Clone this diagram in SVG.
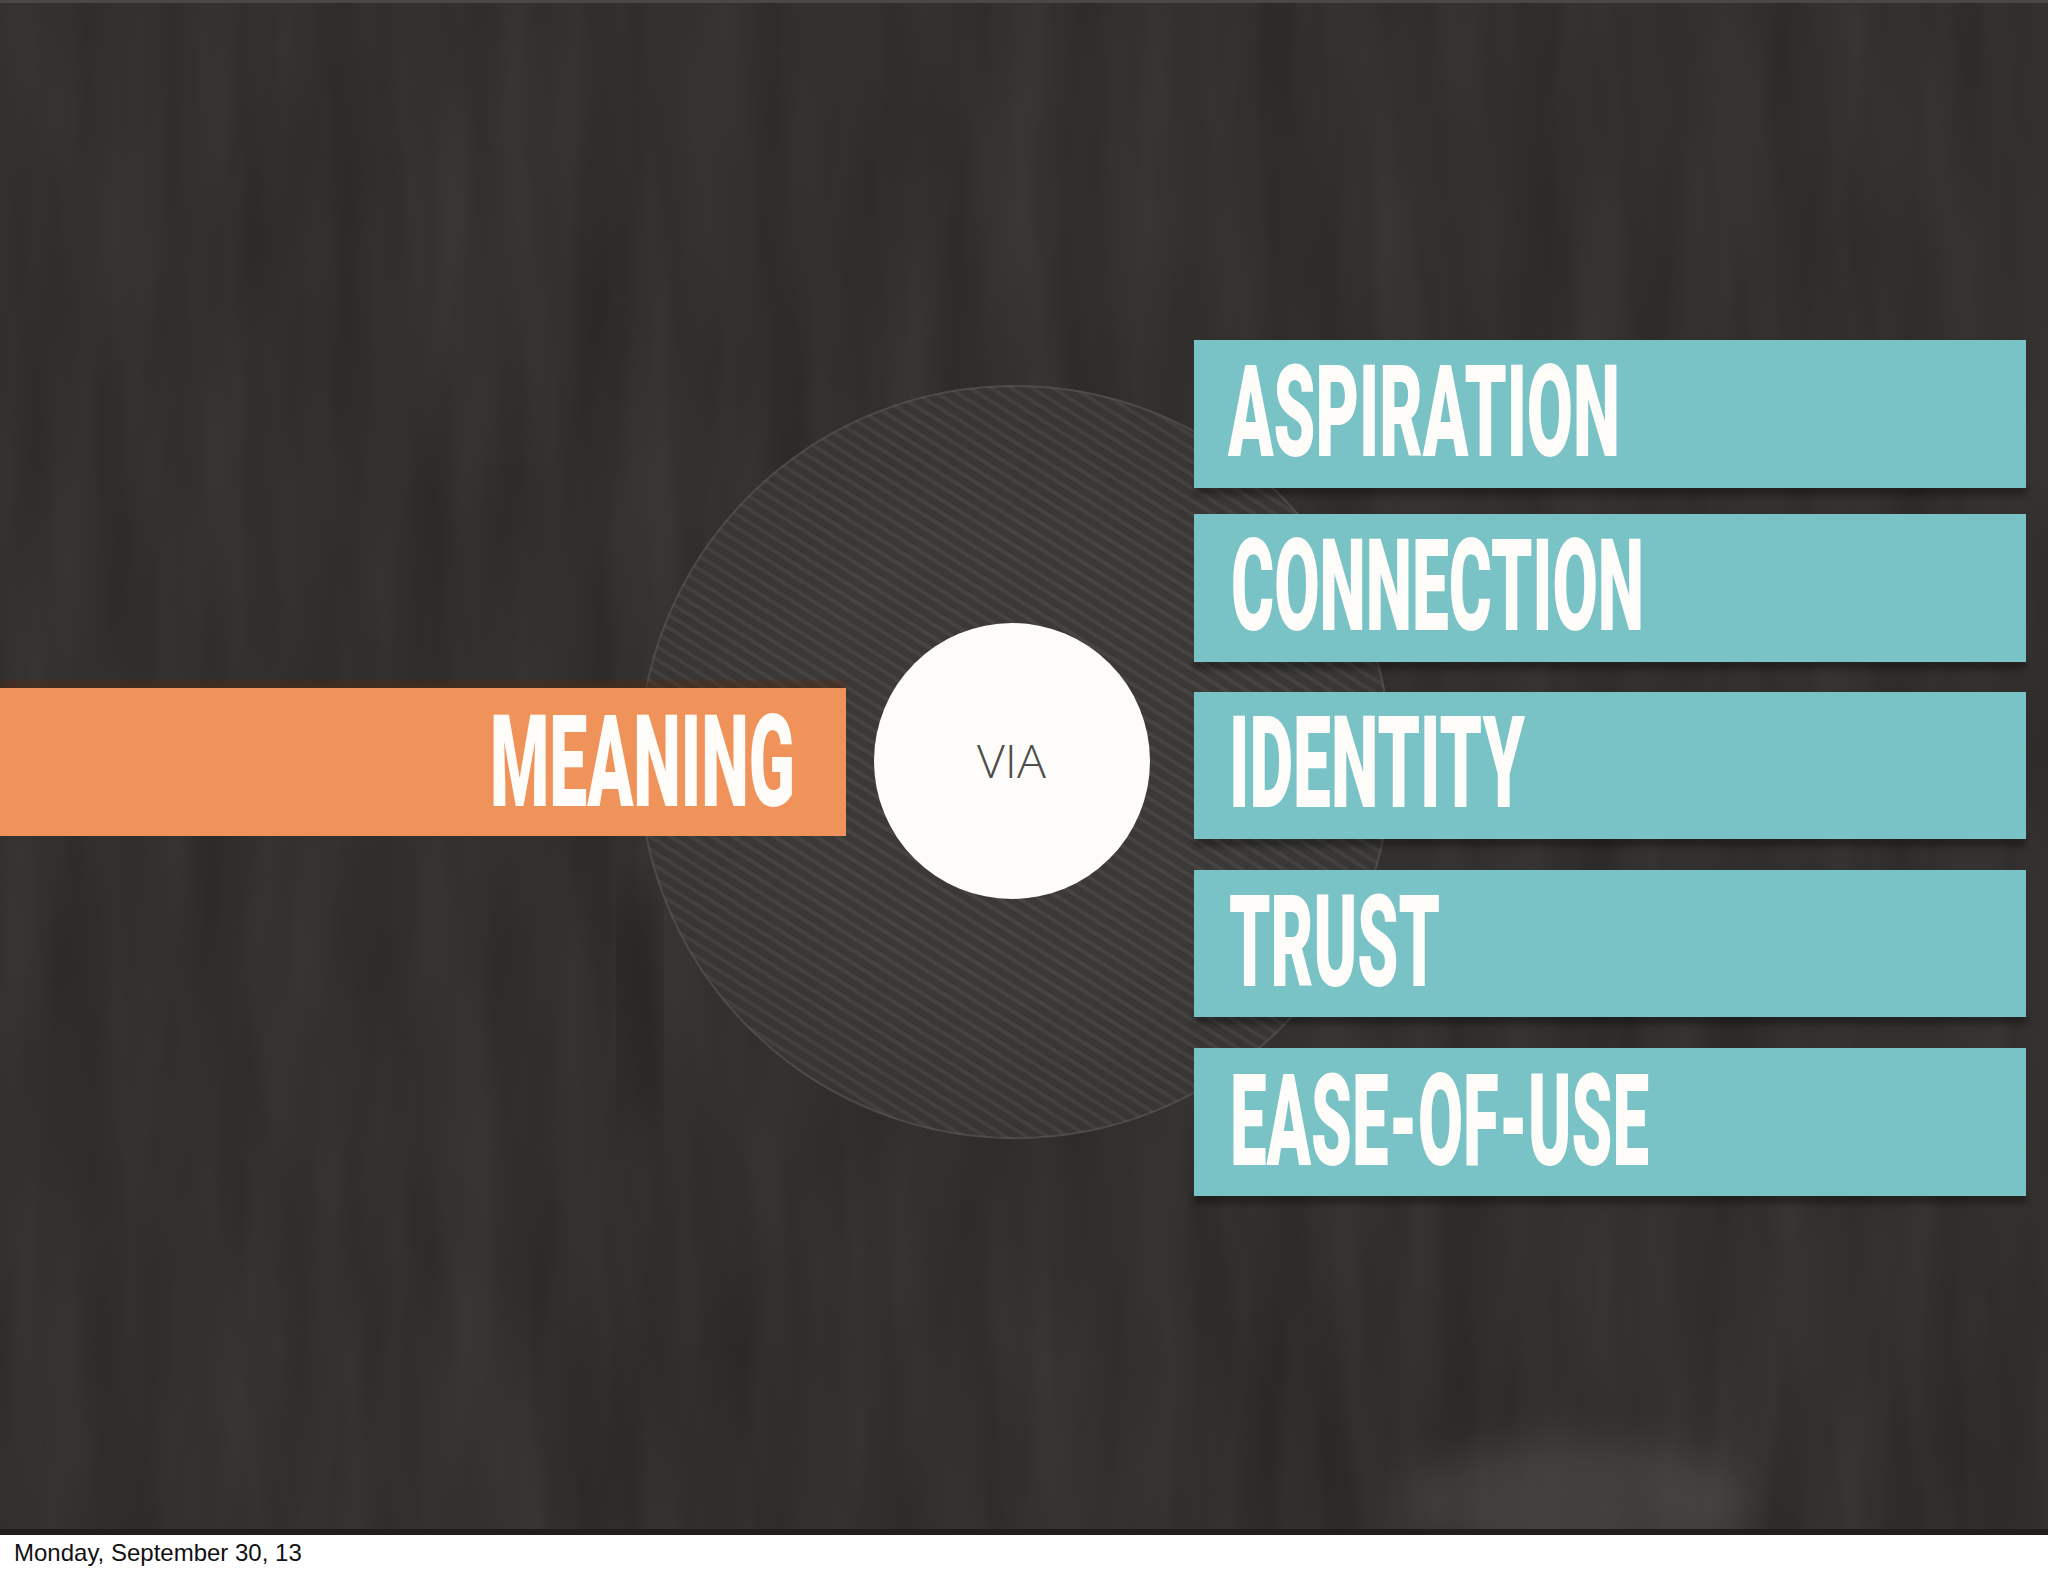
<svg xmlns="http://www.w3.org/2000/svg" width="2048" height="1576" viewBox="0 0 2048 1576">
  <defs>
    <filter id="tex" filterUnits="userSpaceOnUse" x="0" y="0" width="2048" height="1535" color-interpolation-filters="sRGB">
      <feTurbulence type="fractalNoise" baseFrequency="0.016 0.0025" numOctaves="3" seed="7" result="n"/>
      <feColorMatrix in="n" type="matrix" values="0.075 0 0 0 0.158  0.075 0 0 0 0.150  0.075 0 0 0 0.142  0 0 0 0 1"/>
    </filter>
    <filter id="blur20" x="-50%" y="-50%" width="200%" height="200%" color-interpolation-filters="sRGB">
      <feGaussianBlur stdDeviation="20"/>
    </filter>
    <filter id="blur4" x="-20%" y="-100%" width="140%" height="300%" color-interpolation-filters="sRGB">
      <feGaussianBlur stdDeviation="3"/>
    </filter>
    <clipPath id="slide">
      <rect x="0" y="0" width="2048" height="1529"/>
    </clipPath>
    <pattern id="stripes" patternUnits="userSpaceOnUse" width="11" height="11" patternTransform="rotate(32)">
      <rect width="11" height="11" fill="#3a3937"/>
      <rect width="11" height="4" y="0" fill="#454442"/>
    </pattern>
    <radialGradient id="discShade" cx="0.5" cy="0.5" r="0.5">
      <stop offset="0.6" stop-color="#000" stop-opacity="0"/>
      <stop offset="1" stop-color="#000" stop-opacity="0.06"/>
    </radialGradient>
  </defs>
  <style>
    .lbl { font-family: Roboto, "Liberation Sans", sans-serif; font-weight: 900; font-size: 66px; fill: #fdfcf8; }
    .teal { fill: #79c2c5; }
    .shadow { fill: #000; opacity: 0.35; }
    .via { font-family: "Open Sans", "Liberation Sans", sans-serif; font-weight: 300; font-size: 46px; fill: #4d4d4d; }
    .footer { font-family: "Liberation Sans", Arial, sans-serif; font-size: 24px; fill: #111; }
  </style>

  <!-- background -->
  <rect x="0" y="0" width="2048" height="1576" fill="#ffffff"/>
  <rect x="0" y="0" width="2048" height="1535" fill="#312f2d"/>
  <rect x="0" y="0" width="2048" height="1535" filter="url(#tex)"/>
  <g clip-path="url(#slide)">
    <ellipse cx="1575" cy="1500" rx="170" ry="60" fill="#6a6866" opacity="0.3" filter="url(#blur20)"/>
    <ellipse cx="640" cy="1000" rx="12" ry="130" fill="#0e0d0c" opacity="0.6" filter="url(#blur20)"/>
  </g>
  <rect x="0" y="0" width="2048" height="3" fill="#4a4846"/>
  <rect x="0" y="1529" width="2048" height="6" fill="#1f1e1d"/>

  <!-- large striped disc -->
  <g id="disc">
    <circle cx="1015" cy="762" r="377" fill="url(#stripes)"/>
    <circle cx="1015" cy="762" r="377" fill="url(#discShade)"/>
    <circle cx="1015" cy="762" r="376" fill="none" stroke="#5a5956" stroke-width="2" opacity="0.6"/>
  </g>

  <g id="connectors"></g>

  <!-- MEANING -->
  <g id="node-meaning">
    <rect x="0" y="682" width="846" height="8" fill="#5a2810" opacity="0.6" filter="url(#blur4)"/>
    <rect x="0" y="688" width="846" height="148" fill="#f0935a"/>
    <text class="lbl" transform="translate(490,806) scale(1,1.95)" textLength="305" lengthAdjust="spacingAndGlyphs">MEANING</text>
  </g>

  <!-- VIA -->
  <g id="node-via">
    <circle cx="1012" cy="761" r="138" fill="#fdfcfa"/>
    <text class="via" x="977" y="778" textLength="69" lengthAdjust="spacingAndGlyphs">VIA</text>
  </g>

  <!-- teal bars -->
  <g id="node-aspiration">
    <rect class="shadow" x="1194" y="486" width="832" height="9" filter="url(#blur4)"/>
    <rect class="teal" x="1194" y="340" width="832" height="148"/>
    <text class="lbl" transform="translate(1228,456) scale(1,1.95)" textLength="392" lengthAdjust="spacingAndGlyphs">ASPIRATION</text>
  </g>
  <g id="node-connection">
    <rect class="shadow" x="1194" y="660" width="832" height="9" filter="url(#blur4)"/>
    <rect class="teal" x="1194" y="514" width="832" height="148"/>
    <text class="lbl" transform="translate(1231,630) scale(1,1.95)" textLength="413" lengthAdjust="spacingAndGlyphs">CONNECTION</text>
  </g>
  <g id="node-identity">
    <rect class="shadow" x="1194" y="837" width="832" height="9" filter="url(#blur4)"/>
    <rect class="teal" x="1194" y="692" width="832" height="147"/>
    <text class="lbl" transform="translate(1229,807) scale(1,1.95)" textLength="296" lengthAdjust="spacingAndGlyphs">IDENTITY</text>
  </g>
  <g id="node-trust">
    <rect class="shadow" x="1194" y="1015" width="832" height="9" filter="url(#blur4)"/>
    <rect class="teal" x="1194" y="870" width="832" height="147"/>
    <text class="lbl" transform="translate(1229,986) scale(1,1.95)" textLength="211" lengthAdjust="spacingAndGlyphs">TRUST</text>
  </g>
  <g id="node-ease">
    <rect class="shadow" x="1194" y="1194" width="832" height="9" filter="url(#blur4)"/>
    <rect class="teal" x="1194" y="1048" width="832" height="148"/>
    <text class="lbl" transform="translate(1230,1165) scale(1,1.95)" textLength="419" lengthAdjust="spacingAndGlyphs">EASE-OF-USE</text>
  </g>

  <!-- footer -->
  <text class="footer" x="14" y="1561">Monday, September 30, 13</text>
</svg>
